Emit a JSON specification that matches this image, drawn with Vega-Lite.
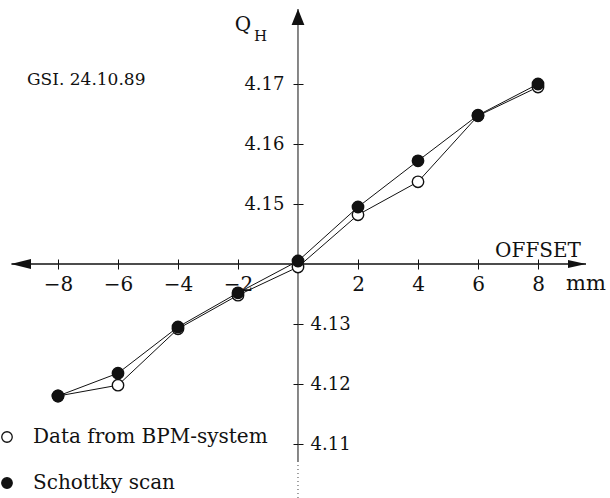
{
  "$schema": "https://vega.github.io/schema/vega-lite/v6.json",
  "width": 610,
  "height": 498,
  "autosize": "none",
  "padding": 0,
  "background": "white",
  "config": {
    "view": {"stroke": null},
    "axis": {"domain": false, "grid": false, "tickColor": "#111", "tickWidth": 1, "labelColor": "#111", "labelFont": "DejaVu Serif", "labelFlush": false, "labelOverlap": false, "title": null}
  },
  "data": {
    "values": [
      {"offset": -8, "qh": 4.1180, "series": "Data from BPM-system"},
      {"offset": -6, "qh": 4.1198, "series": "Data from BPM-system"},
      {"offset": -4, "qh": 4.1292, "series": "Data from BPM-system"},
      {"offset": -2, "qh": 4.1348, "series": "Data from BPM-system"},
      {"offset": 0, "qh": 4.1395, "series": "Data from BPM-system"},
      {"offset": 2, "qh": 4.1482, "series": "Data from BPM-system"},
      {"offset": 4, "qh": 4.1537, "series": "Data from BPM-system"},
      {"offset": 6, "qh": 4.1647, "series": "Data from BPM-system"},
      {"offset": 8, "qh": 4.1695, "series": "Data from BPM-system"},
      {"offset": -8, "qh": 4.1180, "series": "Schottky scan"},
      {"offset": -6, "qh": 4.1218, "series": "Schottky scan"},
      {"offset": -4, "qh": 4.1295, "series": "Schottky scan"},
      {"offset": -2, "qh": 4.1352, "series": "Schottky scan"},
      {"offset": 0, "qh": 4.1405, "series": "Schottky scan"},
      {"offset": 2, "qh": 4.1495, "series": "Schottky scan"},
      {"offset": 4, "qh": 4.1572, "series": "Schottky scan"},
      {"offset": 6, "qh": 4.1648, "series": "Schottky scan"},
      {"offset": 8, "qh": 4.1700, "series": "Schottky scan"}
    ]
  },
  "resolve": {"axis": {"x": "independent", "y": "independent"}},
  "layer": [
    {
      "data": {"values": [{"axis": "x"}]},
      "mark": {"type": "rule", "color": "#111", "strokeWidth": 1.3},
      "encoding": {
        "x": {"datum": -9.55, "type": "quantitative", "scale": {"domain": [-9.9333, 10.4], "nice": false, "zero": false}, "axis": null},
        "x2": {"datum": 9.6},
        "y": {"datum": 4.14, "type": "quantitative", "scale": {"domain": [4.101, 4.184], "nice": false, "zero": false}, "axis": null}
      }
    },
    {
      "data": {"values": [{"axis": "y"}]},
      "mark": {"type": "rule", "color": "#111", "strokeWidth": 1},
      "encoding": {
        "x": {"datum": 0, "type": "quantitative", "axis": null},
        "y": {"datum": 4.1825, "type": "quantitative", "axis": null},
        "y2": {"datum": 4.107}
      }
    },
    {
      "data": {"values": [{"axis": "y"}]},
      "mark": {"type": "rule", "color": "#444", "strokeWidth": 1, "strokeDash": [1, 3]},
      "encoding": {
        "x": {"datum": 0, "type": "quantitative", "axis": null},
        "y": {"datum": 4.1065, "type": "quantitative", "axis": null},
        "y2": {"datum": 4.101}
      }
    },
    {
      "data": {"values": [{"arrow": "right"}]},
      "mark": {"type": "point", "filled": true, "color": "#111", "shape": "M1,0L-1,-0.45L-1,0.45Z", "size": 324, "opacity": 1},
      "encoding": {
        "x": {"datum": 9.3, "type": "quantitative", "axis": null},
        "y": {"datum": 4.14, "type": "quantitative", "axis": null}
      }
    },
    {
      "data": {"values": [{"arrow": "left"}]},
      "mark": {"type": "point", "filled": true, "color": "#111", "shape": "M-1,0L1,-0.5L1,0.5Z", "size": 400, "opacity": 1},
      "encoding": {
        "x": {"datum": -9.233, "type": "quantitative", "axis": null},
        "y": {"datum": 4.14, "type": "quantitative", "axis": null}
      }
    },
    {
      "data": {"values": [{"arrow": "up"}]},
      "mark": {"type": "point", "filled": true, "color": "#111", "shape": "M0,-1L0.8,1L-0.8,1Z", "size": 256, "opacity": 1},
      "encoding": {
        "x": {"datum": 0, "type": "quantitative", "axis": null},
        "y": {"datum": 4.18117, "type": "quantitative", "axis": null}
      }
    },
    {
      "mark": {"type": "line", "color": "#111", "strokeWidth": 1},
      "encoding": {
        "x": {"field": "offset", "type": "quantitative", "axis": {"orient": "bottom", "offset": -234, "values": [-8, -6, -4, -2, 2, 4, 6, 8], "format": "d", "tickSize": 5, "labelFontSize": 20, "labelBaseline": "alphabetic", "labelPadding": 21}},
        "y": {"field": "qh", "type": "quantitative", "axis": {"orient": "left", "offset": -298, "values": [4.11, 4.12, 4.13, 4.15, 4.16, 4.17], "format": ".2f", "labelExpr": "datum.value > 4.14 ? datum.label : ''", "tickSize": 5, "labelPadding": 9, "labelBaseline": "middle", "labelFontSize": 18}},
        "detail": {"field": "series", "type": "nominal"}
      }
    },
    {
      "mark": {"type": "point", "filled": true, "stroke": "#111", "strokeWidth": 1.4, "size": 130, "opacity": 1},
      "encoding": {
        "x": {"field": "offset", "type": "quantitative", "axis": {"orient": "top", "offset": -264, "values": [-8, -6, -4, -2, 2, 4, 6, 8], "labels": false, "tickSize": 5}},
        "y": {"field": "qh", "type": "quantitative", "axis": {"orient": "right", "offset": -312, "values": [4.11, 4.12, 4.13, 4.15, 4.16, 4.17], "format": ".2f", "labelExpr": "datum.value < 4.14 ? datum.label : ''", "tickSize": 5, "labelPadding": 7, "labelBaseline": "middle", "labelFontSize": 18}},
        "fill": {"field": "series", "type": "nominal", "scale": {"domain": ["Data from BPM-system", "Schottky scan"], "range": ["white", "#111"]},
          "legend": {"orient": "none", "legendX": -3, "legendY": 427, "title": null, "padding": 0, "symbolType": "circle", "symbolSize": 110, "symbolStrokeColor": "#111", "symbolStrokeWidth": 1.3, "labelFont": "DejaVu Serif", "labelFontSize": 20, "labelColor": "#111", "labelOffset": 16, "rowPadding": 26, "labelLimit": 400}}
      }
    },
    {
      "data": {"values": [{"t": "GSI. 24.10.89"}]},
      "mark": {"type": "text", "font": "DejaVu Serif", "fontSize": 17, "align": "left", "baseline": "alphabetic", "color": "#111"},
      "encoding": {
        "x": {"datum": -9.033, "type": "quantitative", "axis": null},
        "y": {"datum": 4.16983, "type": "quantitative", "axis": null},
        "text": {"field": "t"}
      }
    },
    {
      "data": {"values": [{"t": "OFFSET"}]},
      "mark": {"type": "text", "font": "DejaVu Serif", "fontSize": 20, "align": "center", "baseline": "alphabetic", "color": "#111"},
      "encoding": {
        "x": {"datum": 8.0, "type": "quantitative", "axis": null},
        "y": {"datum": 4.14117, "type": "quantitative", "axis": null},
        "text": {"field": "t"}
      }
    },
    {
      "data": {"values": [{"t": "mm"}]},
      "mark": {"type": "text", "font": "DejaVu Serif", "fontSize": 21, "align": "left", "baseline": "alphabetic", "color": "#111"},
      "encoding": {
        "x": {"datum": 8.933, "type": "quantitative", "axis": null},
        "y": {"datum": 4.13567, "type": "quantitative", "axis": null},
        "text": {"field": "t"}
      }
    },
    {
      "data": {"values": [{"t": "Q"}]},
      "mark": {"type": "text", "font": "DejaVu Serif", "fontSize": 20, "align": "center", "baseline": "alphabetic", "color": "#111"},
      "encoding": {
        "x": {"datum": -1.833, "type": "quantitative", "axis": null},
        "y": {"datum": 4.17883, "type": "quantitative", "axis": null},
        "text": {"field": "t"}
      }
    },
    {
      "data": {"values": [{"t": "H"}]},
      "mark": {"type": "text", "font": "DejaVu Serif", "fontSize": 15, "align": "left", "baseline": "alphabetic", "color": "#111"},
      "encoding": {
        "x": {"datum": -1.467, "type": "quantitative", "axis": null},
        "y": {"datum": 4.17717, "type": "quantitative", "axis": null},
        "text": {"field": "t"}
      }
    }
  ]
}
